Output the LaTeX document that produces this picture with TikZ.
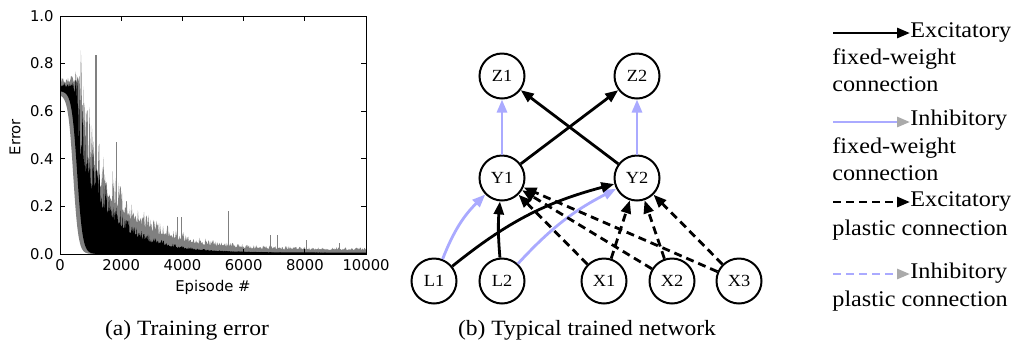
\documentclass[tikz,border=0pt]{standalone}
\usepackage{fontspec}
\setmainfont[FakeStretch=1.08]{Liberation Serif}
\newfontfamily\plotfont{DejaVu Sans}
\usetikzlibrary{arrows.meta}

\definecolor{inhib}{RGB}{170,170,255}
\definecolor{tipgray}{RGB}{170,170,170}

\tikzset{
  neuron/.style={circle, draw, line width=1pt, minimum size=22.5pt, inner sep=0pt, font=\fontsize{8.5}{9}\selectfont},
  excfix/.style={line width=1.4pt, -{Triangle[length=6.5pt,width=5pt]}},
  inhfix/.style={excfix, inhib},
  excpl/.style={excfix, dash pattern=on 4pt off 2.5pt},
  inhpl/.style={inhfix, dash pattern=on 4pt off 2.5pt},
  legtext/.style={font=\fontsize{11.2}{13}\selectfont, inner sep=0pt, anchor=base west},
  captext/.style={font=\fontsize{10.9}{13}\selectfont, inner sep=0pt, anchor=base},
  ticklab/.style={font=\plotfont\fontsize{7.4}{9}\selectfont, inner sep=0pt},
}

\begin{document}
\begin{tikzpicture}[x=0.5pt, y=-0.5pt]
  \useasboundingbox (0,0) rectangle (1013,345);

  % (a) error curve
  \coordinate (orig) at (60,254);
  \begin{scope}[shift={(orig)}, x=0.0153pt, y=119pt]
    \pgfmathsetseed{11}
    % spread of runs
    \fill[gray] plot[domain=0:10000, samples=500]
      (\x, {min(0.73, max(0.72*exp(-(\x-650)/700), 0.02+0.34*exp(-(\x-1300)/1400)))*((\x>650)*(0.8+0.55*rnd^2)+(1-(\x>650))*(0.98+0.05*rnd))})
      -- (10000,0) -- (1100,0)
      -- plot[domain=1100:0, samples=60] (\x, {0.67/(1+exp((\x-430)/85))}) -- cycle;
    % single spikes
    \foreach \sx/\sy in {1176/0.836, 1852/0.47, 3846/0.155, 3976/0.155, 5512/0.18, 6885/0.08, 7113/0.08, 8061/0.06, 9123/0.045}
      \draw[gray, line width=0.6pt] (\sx,0) -- (\sx,\sy);
    % median run
    \fill[black] plot[domain=0:10000, samples=600]
      (\x, {(min(0.70, max(0.69*exp(-(\x-450)/900), 0.27*exp(-(\x-1300)/1100)))*((\x>500)*(0.75+0.5*rnd^2)+(1-(\x>500))*(0.99+0.03*rnd))+0.006)})
      -- (10000,0) -- (1300,0)
      -- plot[domain=1300:0, samples=60] (\x, {0.685/(1+exp((\x-560)/90))}) -- cycle;

    % frame and ticks
    \draw[line width=0.5pt] (0,0) rectangle (10000,1);
    \foreach \t in {0,2000,...,10000} {
      \draw[line width=0.5pt] (\t,0) -- ++(0pt,2.5pt);
      \draw[line width=0.5pt] (\t,1) -- ++(0pt,-2.5pt);
      \node[ticklab, anchor=north] (xt\t) at ([yshift=-2.5pt]\t,0) {\t};
    }
    \foreach \v/\t in {0/0.0, 0.2/0.2, 0.4/0.4, 0.6/0.6, 0.8/0.8, 1/1.0} {
      \draw[line width=0.5pt] (0,\v) -- ++(2.5pt,0pt);
      \draw[line width=0.5pt] (10000,\v) -- ++(-2.5pt,0pt);
      \node[ticklab, anchor=east] (yt\t) at ([xshift=-3pt]0,\v) {\t};
    }
  \end{scope}
  \node[ticklab] (xlab) at (213,287) {Episode \#};
  \node[ticklab, rotate=90] (ylab) at (15,137) {Error};
  \node[captext] (capa) at (187,335) {(a) Training error};

  % (b) network
  \node[neuron] (Z1) at (502,76) {Z1};
  \node[neuron] (Z2) at (637,76) {Z2};
  \node[neuron] (Y1) at (502,178) {Y1};
  \node[neuron] (Y2) at (637,178) {Y2};
  \node[neuron] (L1) at (434,281) {L1};
  \node[neuron] (L2) at (502,281) {L2};
  \node[neuron] (X1) at (604,281) {X1};
  \node[neuron] (X2) at (672,281) {X2};
  \node[neuron] (X3) at (739,281) {X3};

  \draw[inhfix] (Y1) -- (Z1);
  \draw[inhfix] (Y2) -- (Z2);
  \draw[excfix] (Y1) -- (Z2);
  \draw[excfix] (Y2) -- (Z1);
  \draw[inhfix] (L1) to[bend left=12] (Y1);
  \draw[inhfix] (L2) to[bend left=10] (Y2);
  \draw[excfix] (L1) to[bend left=12] (Y2);
  \draw[excfix] (L2) to[bend left=5] (Y1);
  \foreach \src in {X1,X2,X3} {
    \draw[excpl] (\src) -- (Y1);
    \draw[excpl] (\src) -- (Y2);
  }
  \node[captext] (capb) at (587,335) {(b) Typical trained network};

  % legend
  \node[legtext] (exc1) at (910,37) {Excitatory};
  \node[legtext] (exc1b) at (832,64) {fixed-weight};
  \node[legtext] (exc1c) at (832,91) {connection};
  \coordinate (a1) at (833,33);
  \draw[excfix] (a1) -- (a1 -| exc1.west);

  \node[legtext] (inh1) at (910,125) {Inhibitory};
  \node[legtext] (inh1b) at (832,153) {fixed-weight};
  \node[legtext] (inh1c) at (832,180) {connection};
  \coordinate (a2) at (833,122);
  \draw[inhfix, -{Triangle[length=6.5pt,width=5pt,color=tipgray]}] (a2) -- (a2 -| inh1.west);

  \node[legtext] (exc2) at (910,206) {Excitatory};
  \node[legtext] (exc2b) at (832,235) {plastic connection};
  \coordinate (a3) at (833,202);
  \draw[excpl] (a3) -- (a3 -| exc2.west);

  \node[legtext] (inh2) at (910,278) {Inhibitory};
  \node[legtext] (inh2b) at (832,306) {plastic connection};
  \coordinate (a4) at (833,274);
  \draw[inhpl, -{Triangle[length=6.5pt,width=5pt,color=tipgray]}] (a4) -- (a4 -| inh2.west);
\end{tikzpicture}
\end{document}
